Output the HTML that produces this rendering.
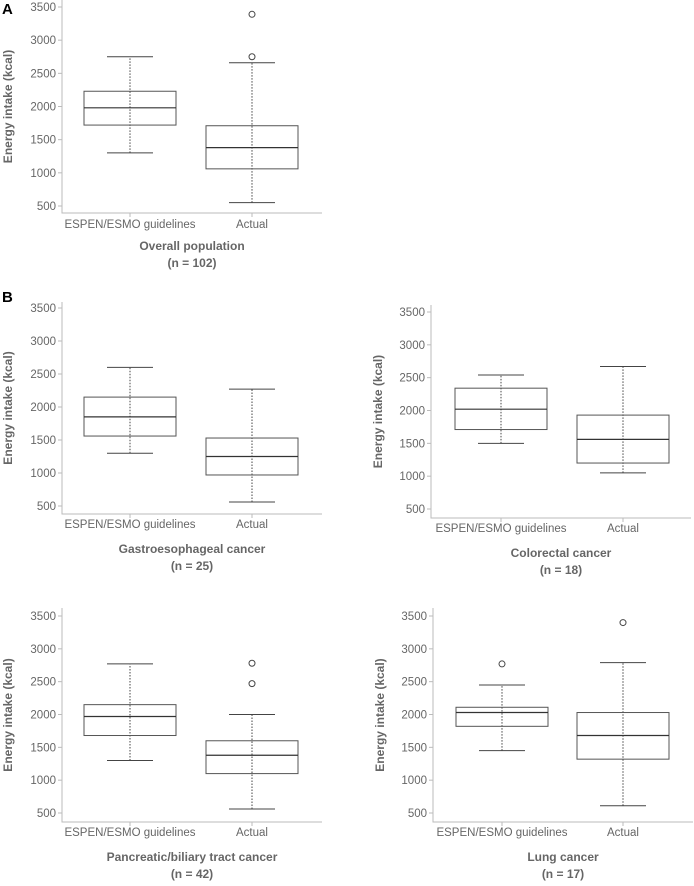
<!DOCTYPE html>
<html><head><meta charset="utf-8"><style>
body{margin:0;background:#fff;width:694px;height:886px;overflow:hidden}
svg{display:block;font-family:"Liberation Sans",sans-serif}
</style></head><body>
<svg id="c" width="694" height="886"></svg>
<script>
const categories=["ESPEN/ESMO guidelines","Actual"];
const yTicks=[500,1000,1500,2000,2500,3000,3500];
const panelTitles=["Overall population","Gastroesophageal cancer","Colorectal cancer","Pancreatic/biliary tract cancer","Lung cancer"];
const panelNs=["(n = 102)","(n = 25)","(n = 18)","(n = 42)","(n = 17)"];
// [whiskerLow, q1, median, q3, whiskerHigh] per category
const overallStats=[[1300,1720,1980,2230,2750],[550,1060,1380,1710,2660]];
const overallOutliers=[[],[2750,3390]];
const gastroStats=[[1300,1560,1850,2150,2600],[560,970,1250,1530,2270]];
const gastroOutliers=[[],[]];
const colorectalStats=[[1500,1710,2020,2340,2540],[1050,1200,1560,1930,2670]];
const colorectalOutliers=[[],[]];
const pancreaticStats=[[1300,1680,1970,2150,2770],[560,1100,1380,1600,2000]];
const pancreaticOutliers=[[],[2470,2780]];
const lungStats=[[1450,1820,2030,2110,2450],[610,1320,1680,2030,2790]];
const lungOutliers=[[2770],[3400]];

const layouts=[
 {ax:62,right:322,top:0,y3500:7,y500:206,bottom:213,cx:[130,252],lab:228,t:250,n:267,yt:12},
 {ax:62,right:322,top:302,y3500:308,y500:506,bottom:514,cx:[130,252],lab:528,t:553,n:570,yt:12},
 {ax:431,right:691,top:305,y3500:312,y500:509,bottom:518,cx:[501,623],lab:532,t:557,n:574,yt:382},
 {ax:62,right:322,top:608,y3500:616,y500:813,bottom:822,cx:[130,252],lab:836,t:861,n:878,yt:12},
 {ax:433,right:693,top:608,y3500:616,y500:813,bottom:822,cx:[502,623],lab:836,t:861,n:878,yt:384}
];
const statsAll=[overallStats,gastroStats,colorectalStats,pancreaticStats,lungStats];
const outAll=[overallOutliers,gastroOutliers,colorectalOutliers,pancreaticOutliers,lungOutliers];
const svg=document.getElementById('c');
const NS="http://www.w3.org/2000/svg";
function mk(tag,attrs,parent,text){const e=document.createElementNS(NS,tag);for(const k in attrs)e.setAttribute(k,attrs[k]);if(text!=null)e.textContent=text;parent.appendChild(e);return e;}
function addLabel(txt,x,y,name){const t=mk('text',{x:x,y:y,'font-size':15,'font-weight':'bold',fill:'#000'},svg,txt);

}
addLabel("A",2,14,'panel-a-label');
addLabel("B",2,302,'panel-b-label');

layouts.forEach((L,pi)=>{
 const g=mk('g',{},svg);
 
 
 const y=v=>L.y500+(v-500)*(L.y3500-L.y500)/3000;
 const ax=mk('path',{d:`M${L.ax} ${L.top}V${L.bottom}H${L.right}`,stroke:'#bbb','stroke-width':1,fill:'none'},g);
 
 
 yTicks.forEach(v=>{
  mk('line',{x1:L.ax-4,x2:L.ax,y1:y(v),y2:y(v),stroke:'#bbb'},g);
  const t=mk('text',{x:L.ax-6,y:y(v)+4,'text-anchor':'end','font-size':11.5,fill:'#666'},g,v);
  
  
 });
 const yt=mk('text',{x:L.yt,y:(L.top+L.bottom)/2,'text-anchor':'middle','font-size':12,'font-weight':'bold',fill:'#666',transform:`rotate(-90 ${L.yt} ${(L.top+L.bottom)/2})`},g,"Energy intake (kcal)");
 
 
 categories.forEach((c,ci)=>{
  const cx=L.cx[ci];
  mk('line',{x1:cx,x2:cx,y1:L.bottom,y2:L.bottom+4,stroke:'#bbb'},g);
  const xl=mk('text',{x:cx,y:L.lab,'text-anchor':'middle','font-size':11.5,fill:'#666'},g,c);
  
  
  const s=statsAll[pi][ci];
  const b=mk('g',{},g);
  
  
  mk('line',{x1:cx,x2:cx,y1:y(s[0]),y2:y(s[4]),stroke:'#444','stroke-dasharray':'1.5,1.5','stroke-width':1},b);
  mk('line',{x1:cx-23,x2:cx+23,y1:y(s[0]),y2:y(s[0]),stroke:'#444'},b);
  mk('line',{x1:cx-23,x2:cx+23,y1:y(s[4]),y2:y(s[4]),stroke:'#444'},b);
  mk('rect',{x:cx-46,y:y(s[3]),width:92,height:y(s[1])-y(s[3]),fill:'none',stroke:'#555'},b);
  mk('line',{x1:cx-46,x2:cx+46,y1:y(s[2]),y2:y(s[2]),stroke:'#333','stroke-width':1.2},b);
  outAll[pi][ci].forEach(v=>{
   const o=mk('circle',{cx:cx,cy:y(v),r:3,fill:'none',stroke:'#444'},b);
   
   
  });
 });
 const mid=(L.ax+L.right)/2;
 const t1=mk('text',{x:mid,y:L.t,'text-anchor':'middle','font-size':12,'font-weight':'bold',fill:'#666'},g,panelTitles[pi]);
 
 
 const t2=mk('text',{x:mid,y:L.n,'text-anchor':'middle','font-size':12,'font-weight':'bold',fill:'#666'},g,panelNs[pi]);
 
 
});
</script>
</body></html>
